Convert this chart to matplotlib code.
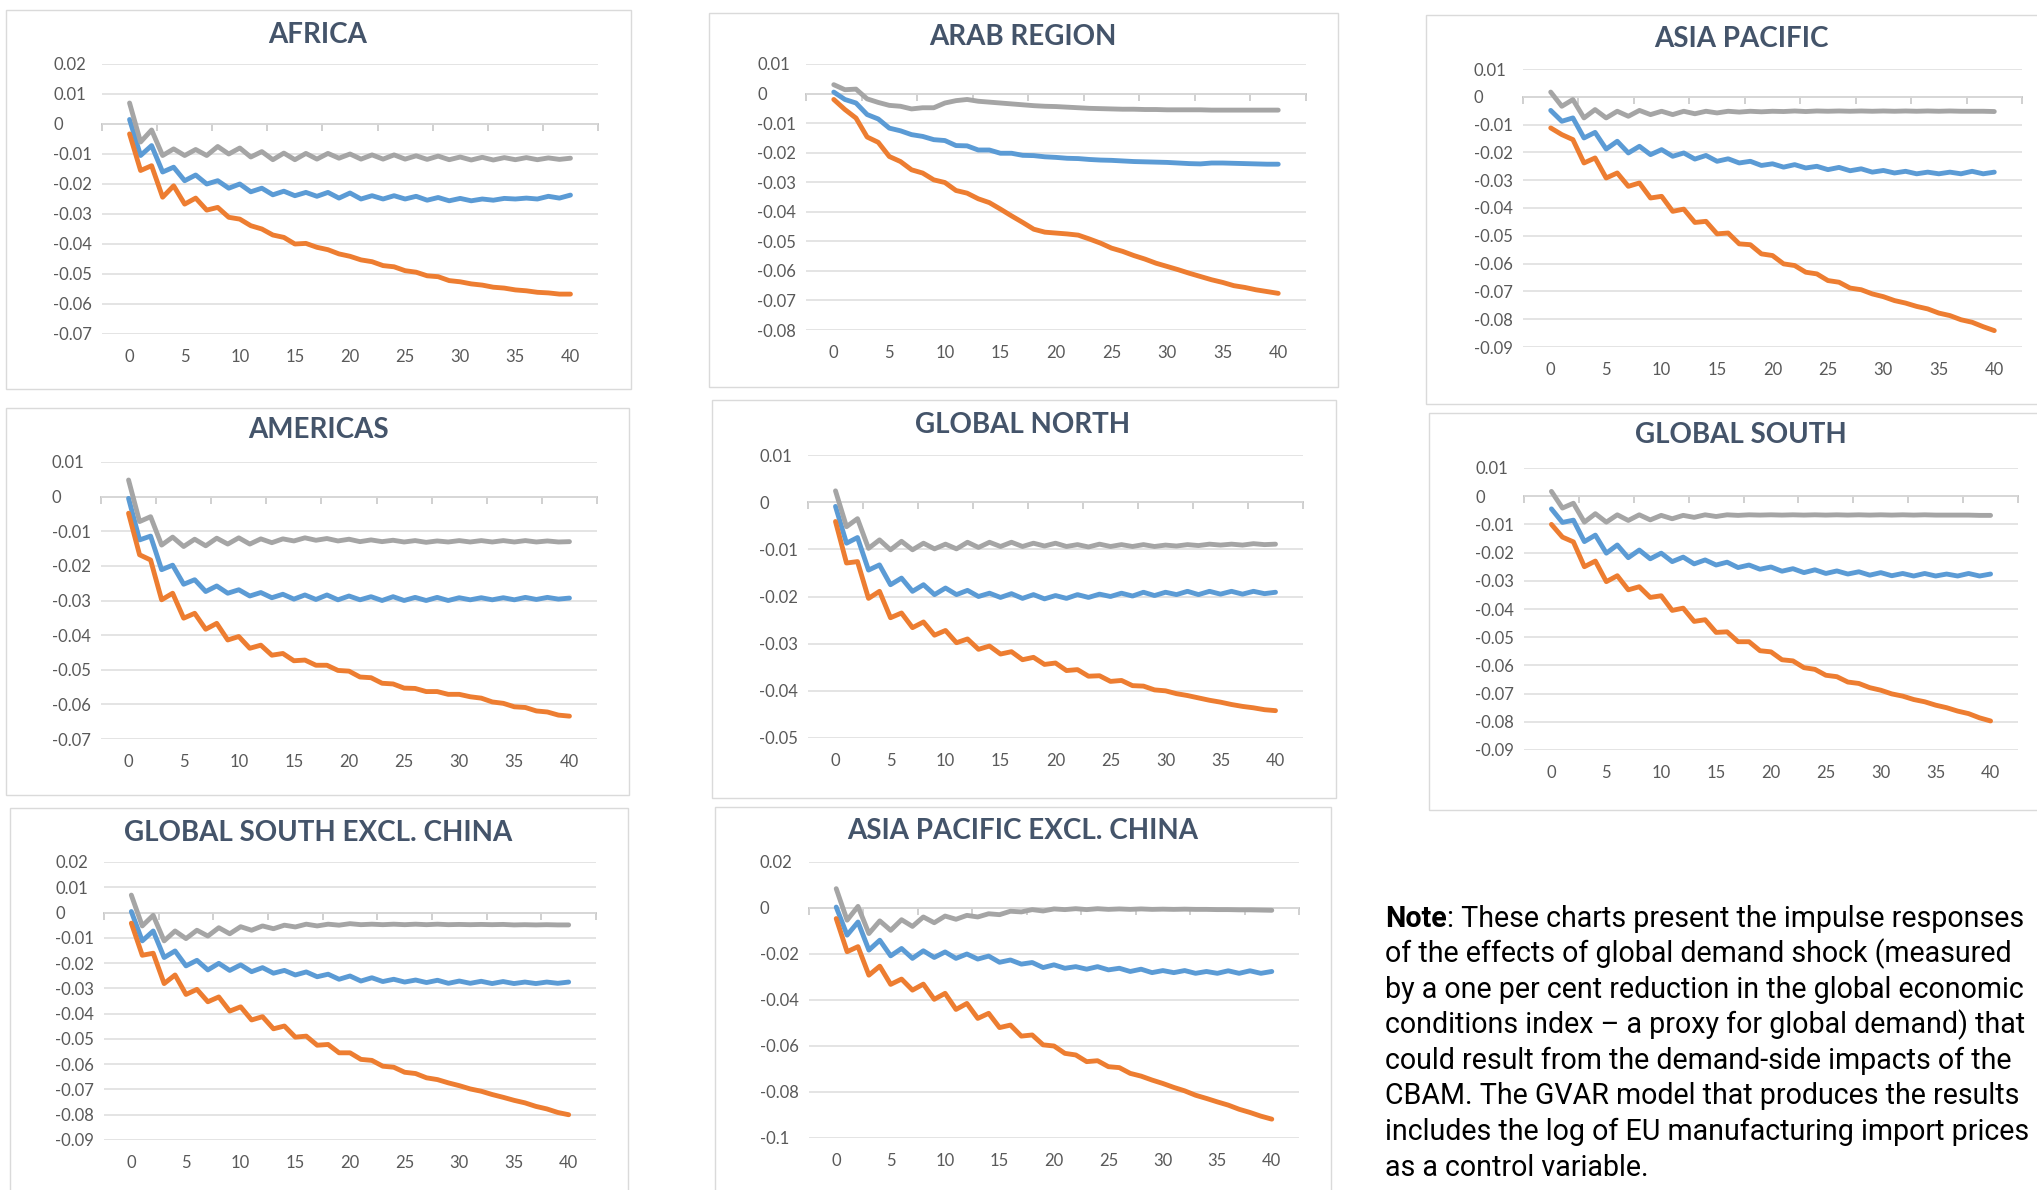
import matplotlib
matplotlib.use("Agg")
import matplotlib.pyplot as plt
from matplotlib.patches import Rectangle

W, H = 2037, 1190
horizon = list(range(41))

# ---------------------------------------------------------------- data
africa_blue = [0.0015, -0.0105, -0.0072, -0.0160, -0.0144, -0.0189, -0.0170, -0.0200, -0.0189, -0.0214,
               -0.0200, -0.0226, -0.0214, -0.0236, -0.0224, -0.0239, -0.0228, -0.0241, -0.0228, -0.0247,
               -0.0230, -0.0250, -0.0239, -0.0250, -0.0239, -0.0250, -0.0241, -0.0254, -0.0245, -0.0256,
               -0.0248, -0.0256, -0.0250, -0.0254, -0.0248, -0.0250, -0.0247, -0.0250, -0.0241, -0.0247,
               -0.0237]
africa_orange = [-0.0033, -0.0155, -0.0139, -0.0244, -0.0206, -0.0267, -0.0247, -0.0287, -0.0278, -0.0311,
                 -0.0317, -0.0339, -0.0350, -0.0370, -0.0378, -0.0400, -0.0398, -0.0411, -0.0419, -0.0433,
                 -0.0441, -0.0453, -0.0459, -0.0472, -0.0476, -0.0489, -0.0494, -0.0506, -0.0509, -0.0522,
                 -0.0526, -0.0533, -0.0537, -0.0544, -0.0547, -0.0553, -0.0556, -0.0561, -0.0563, -0.0567,
                 -0.0567]
africa_gray = [0.0070, -0.0060, -0.0020, -0.0105, -0.0083, -0.0105, -0.0085, -0.0105, -0.0075, -0.0100,
               -0.0080, -0.0110, -0.0092, -0.0119, -0.0097, -0.0119, -0.0098, -0.0117, -0.0098, -0.0114,
               -0.0100, -0.0117, -0.0103, -0.0117, -0.0103, -0.0117, -0.0106, -0.0118, -0.0107, -0.0119,
               -0.0110, -0.0120, -0.0111, -0.0120, -0.0112, -0.0119, -0.0112, -0.0119, -0.0113, -0.0118,
               -0.0114]
africa_yticks = [0.02, 0.01, 0, -0.01, -0.02, -0.03, -0.04, -0.05, -0.06, -0.07]

arab_blue = [0.0005, -0.0020, -0.0032, -0.0071, -0.0086, -0.0117, -0.0126, -0.0139, -0.0145, -0.0156,
             -0.0159, -0.0176, -0.0177, -0.0191, -0.0191, -0.0202, -0.0202, -0.0209, -0.0210, -0.0214,
             -0.0216, -0.0219, -0.0220, -0.0223, -0.0225, -0.0226, -0.0228, -0.0230, -0.0231, -0.0232,
             -0.0233, -0.0235, -0.0237, -0.0238, -0.0235, -0.0235, -0.0236, -0.0237, -0.0238, -0.0239,
             -0.0239]
arab_orange = [-0.0020, -0.0054, -0.0083, -0.0147, -0.0165, -0.0213, -0.0230, -0.0258, -0.0269, -0.0292,
               -0.0301, -0.0328, -0.0337, -0.0356, -0.0369, -0.0391, -0.0414, -0.0436, -0.0459, -0.0469,
               -0.0472, -0.0475, -0.0479, -0.0492, -0.0506, -0.0523, -0.0534, -0.0548, -0.0560, -0.0574,
               -0.0585, -0.0596, -0.0608, -0.0619, -0.0630, -0.0639, -0.0650, -0.0656, -0.0664, -0.0670,
               -0.0676]
arab_gray = [0.0030, 0.0013, 0.0015, -0.0018, -0.0030, -0.0040, -0.0043, -0.0052, -0.0048, -0.0048,
             -0.0032, -0.0024, -0.0020, -0.0026, -0.0029, -0.0032, -0.0035, -0.0038, -0.0041, -0.0043,
             -0.0044, -0.0046, -0.0048, -0.0050, -0.0051, -0.0052, -0.0053, -0.0053, -0.0054, -0.0054,
             -0.0055, -0.0055, -0.0055, -0.0055, -0.0056, -0.0056, -0.0056, -0.0056, -0.0056, -0.0056,
             -0.0056]
arab_yticks = [0.01, 0, -0.01, -0.02, -0.03, -0.04, -0.05, -0.06, -0.07, -0.08]

asiapac_blue = [-0.0049, -0.0088, -0.0076, -0.0148, -0.0128, -0.0188, -0.0160, -0.0202, -0.0178, -0.0208,
                -0.0190, -0.0214, -0.0202, -0.0224, -0.0211, -0.0232, -0.0223, -0.0238, -0.0232, -0.0247,
                -0.0241, -0.0253, -0.0244, -0.0256, -0.0250, -0.0262, -0.0254, -0.0266, -0.0259, -0.0271,
                -0.0265, -0.0274, -0.0268, -0.0277, -0.0271, -0.0277, -0.0271, -0.0277, -0.0268, -0.0277,
                -0.0271]
asiapac_orange = [-0.0112, -0.0136, -0.0154, -0.0238, -0.0220, -0.0292, -0.0274, -0.0322, -0.0310, -0.0364,
                  -0.0358, -0.0412, -0.0404, -0.0452, -0.0448, -0.0493, -0.0490, -0.0529, -0.0532, -0.0565,
                  -0.0571, -0.0601, -0.0607, -0.0631, -0.0637, -0.0661, -0.0667, -0.0688, -0.0694, -0.0709,
                  -0.0719, -0.0733, -0.0742, -0.0754, -0.0763, -0.0778, -0.0787, -0.0802, -0.0811, -0.0827,
                  -0.0841]
asiapac_gray = [0.0017, -0.0034, -0.0010, -0.0076, -0.0046, -0.0076, -0.0052, -0.0070, -0.0049, -0.0064,
                -0.0052, -0.0064, -0.0052, -0.0061, -0.0052, -0.0058, -0.0052, -0.0055, -0.0052, -0.0054,
                -0.0052, -0.0053, -0.0051, -0.0053, -0.0051, -0.0052, -0.0051, -0.0052, -0.0051, -0.0052,
                -0.0051, -0.0052, -0.0051, -0.0052, -0.0051, -0.0052, -0.0051, -0.0052, -0.0052, -0.0052,
                -0.0053]
asiapac_yticks = [0.01, 0, -0.01, -0.02, -0.03, -0.04, -0.05, -0.06, -0.07, -0.08, -0.09]

americas_blue = [-0.0005, -0.0125, -0.0114, -0.0211, -0.0198, -0.0253, -0.0240, -0.0274, -0.0258, -0.0279,
                 -0.0269, -0.0287, -0.0277, -0.0292, -0.0282, -0.0296, -0.0284, -0.0297, -0.0284, -0.0298,
                 -0.0287, -0.0298, -0.0289, -0.0300, -0.0289, -0.0300, -0.0291, -0.0300, -0.0291, -0.0300,
                 -0.0292, -0.0298, -0.0292, -0.0298, -0.0292, -0.0298, -0.0291, -0.0297, -0.0291, -0.0296,
                 -0.0293]
americas_orange = [-0.0048, -0.0168, -0.0183, -0.0298, -0.0279, -0.0351, -0.0337, -0.0383, -0.0366, -0.0414,
                   -0.0404, -0.0438, -0.0429, -0.0458, -0.0453, -0.0474, -0.0472, -0.0487, -0.0487, -0.0502,
                   -0.0504, -0.0521, -0.0523, -0.0539, -0.0541, -0.0553, -0.0554, -0.0563, -0.0563, -0.0571,
                   -0.0571, -0.0578, -0.0582, -0.0593, -0.0597, -0.0607, -0.0609, -0.0619, -0.0622, -0.0631,
                   -0.0634]
americas_gray = [0.0048, -0.0072, -0.0058, -0.0140, -0.0117, -0.0144, -0.0123, -0.0142, -0.0120, -0.0137,
                 -0.0119, -0.0137, -0.0122, -0.0133, -0.0122, -0.0128, -0.0119, -0.0126, -0.0121, -0.0128,
                 -0.0123, -0.0130, -0.0125, -0.0130, -0.0126, -0.0131, -0.0127, -0.0132, -0.0128, -0.0131,
                 -0.0127, -0.0131, -0.0127, -0.0131, -0.0127, -0.0131, -0.0127, -0.0131, -0.0128, -0.0131,
                 -0.0130]
americas_yticks = [0.01, 0, -0.01, -0.02, -0.03, -0.04, -0.05, -0.06, -0.07]

north_blue = [-0.0009, -0.0087, -0.0075, -0.0144, -0.0133, -0.0175, -0.0161, -0.0189, -0.0175, -0.0196,
              -0.0182, -0.0196, -0.0187, -0.0200, -0.0193, -0.0202, -0.0194, -0.0204, -0.0196, -0.0205,
              -0.0198, -0.0204, -0.0196, -0.0202, -0.0195, -0.0200, -0.0193, -0.0199, -0.0191, -0.0198,
              -0.0191, -0.0196, -0.0189, -0.0196, -0.0189, -0.0195, -0.0189, -0.0195, -0.0189, -0.0194,
              -0.0191]
north_orange = [-0.0041, -0.0129, -0.0126, -0.0204, -0.0189, -0.0245, -0.0235, -0.0266, -0.0254, -0.0282,
                -0.0272, -0.0298, -0.0290, -0.0312, -0.0305, -0.0322, -0.0317, -0.0334, -0.0329, -0.0344,
                -0.0341, -0.0357, -0.0355, -0.0369, -0.0368, -0.0380, -0.0378, -0.0389, -0.0390, -0.0398,
                -0.0400, -0.0406, -0.0410, -0.0415, -0.0420, -0.0424, -0.0429, -0.0433, -0.0436, -0.0440,
                -0.0442]
north_gray = [0.0024, -0.0052, -0.0035, -0.0098, -0.0080, -0.0101, -0.0083, -0.0101, -0.0087, -0.0099,
              -0.0089, -0.0099, -0.0085, -0.0096, -0.0085, -0.0094, -0.0085, -0.0094, -0.0087, -0.0093,
              -0.0087, -0.0094, -0.0090, -0.0095, -0.0089, -0.0094, -0.0090, -0.0094, -0.0090, -0.0094,
              -0.0091, -0.0093, -0.0090, -0.0092, -0.0089, -0.0091, -0.0089, -0.0091, -0.0088, -0.0090,
              -0.0089]
north_yticks = [0.01, 0, -0.01, -0.02, -0.03, -0.04, -0.05]

south_blue = [-0.0045, -0.0093, -0.0085, -0.0161, -0.0138, -0.0202, -0.0173, -0.0218, -0.0191, -0.0222,
              -0.0202, -0.0232, -0.0216, -0.0240, -0.0226, -0.0244, -0.0234, -0.0253, -0.0244, -0.0259,
              -0.0251, -0.0266, -0.0257, -0.0271, -0.0261, -0.0274, -0.0265, -0.0276, -0.0268, -0.0280,
              -0.0271, -0.0282, -0.0274, -0.0283, -0.0274, -0.0283, -0.0276, -0.0283, -0.0274, -0.0283,
              -0.0276]
south_orange = [-0.0100, -0.0145, -0.0162, -0.0250, -0.0230, -0.0303, -0.0282, -0.0332, -0.0321, -0.0359,
                -0.0353, -0.0405, -0.0397, -0.0444, -0.0438, -0.0483, -0.0481, -0.0516, -0.0516, -0.0548,
                -0.0552, -0.0580, -0.0584, -0.0608, -0.0614, -0.0635, -0.0640, -0.0659, -0.0664, -0.0679,
                -0.0688, -0.0701, -0.0709, -0.0721, -0.0729, -0.0741, -0.0750, -0.0762, -0.0771, -0.0786,
                -0.0797]
south_gray = [0.0017, -0.0042, -0.0025, -0.0092, -0.0062, -0.0092, -0.0066, -0.0086, -0.0066, -0.0084,
              -0.0068, -0.0080, -0.0068, -0.0075, -0.0066, -0.0072, -0.0066, -0.0068, -0.0066, -0.0067,
              -0.0066, -0.0067, -0.0066, -0.0067, -0.0066, -0.0067, -0.0066, -0.0067, -0.0066, -0.0067,
              -0.0066, -0.0067, -0.0066, -0.0067, -0.0066, -0.0067, -0.0067, -0.0067, -0.0067, -0.0068,
              -0.0068]
south_yticks = [0.01, 0, -0.01, -0.02, -0.03, -0.04, -0.05, -0.06, -0.07, -0.08, -0.09]

south_xchn_blue = [0.0004, -0.0112, -0.0073, -0.0178, -0.0152, -0.0211, -0.0189, -0.0227, -0.0201, -0.0229,
                   -0.0207, -0.0234, -0.0218, -0.0240, -0.0229, -0.0247, -0.0235, -0.0254, -0.0244, -0.0264,
                   -0.0251, -0.0271, -0.0258, -0.0273, -0.0264, -0.0275, -0.0267, -0.0277, -0.0268, -0.0280,
                   -0.0271, -0.0280, -0.0272, -0.0281, -0.0273, -0.0281, -0.0275, -0.0281, -0.0275, -0.0280,
                   -0.0275]
south_xchn_orange = [-0.0042, -0.0169, -0.0161, -0.0281, -0.0247, -0.0324, -0.0304, -0.0353, -0.0334, -0.0390,
                     -0.0373, -0.0425, -0.0412, -0.0460, -0.0449, -0.0493, -0.0489, -0.0525, -0.0522, -0.0555,
                     -0.0555, -0.0581, -0.0585, -0.0608, -0.0612, -0.0632, -0.0637, -0.0654, -0.0661, -0.0674,
                     -0.0685, -0.0698, -0.0707, -0.0720, -0.0731, -0.0743, -0.0753, -0.0767, -0.0777, -0.0791,
                     -0.0800]
south_xchn_gray = [0.0069, -0.0053, -0.0011, -0.0112, -0.0073, -0.0103, -0.0070, -0.0093, -0.0060, -0.0084,
                   -0.0056, -0.0070, -0.0053, -0.0064, -0.0050, -0.0057, -0.0046, -0.0053, -0.0046, -0.0050,
                   -0.0044, -0.0048, -0.0046, -0.0048, -0.0046, -0.0048, -0.0046, -0.0048, -0.0046, -0.0048,
                   -0.0047, -0.0048, -0.0047, -0.0048, -0.0047, -0.0049, -0.0048, -0.0049, -0.0048, -0.0049,
                   -0.0049]
south_xchn_yticks = [0.02, 0.01, 0, -0.01, -0.02, -0.03, -0.04, -0.05, -0.06, -0.07, -0.08, -0.09]

asiapac_xchn_blue = [0.0004, -0.0118, -0.0061, -0.0183, -0.0140, -0.0208, -0.0176, -0.0219, -0.0186, -0.0215,
                     -0.0191, -0.0219, -0.0200, -0.0222, -0.0209, -0.0236, -0.0226, -0.0244, -0.0237, -0.0259,
                     -0.0247, -0.0262, -0.0255, -0.0266, -0.0255, -0.0269, -0.0262, -0.0276, -0.0266, -0.0281,
                     -0.0272, -0.0281, -0.0272, -0.0284, -0.0276, -0.0284, -0.0273, -0.0284, -0.0273, -0.0284,
                     -0.0276]
asiapac_xchn_orange = [-0.0046, -0.0190, -0.0168, -0.0292, -0.0253, -0.0332, -0.0309, -0.0357, -0.0331, -0.0397,
                       -0.0371, -0.0441, -0.0415, -0.0480, -0.0458, -0.0520, -0.0509, -0.0557, -0.0552, -0.0595,
                       -0.0600, -0.0632, -0.0639, -0.0668, -0.0664, -0.0690, -0.0694, -0.0719, -0.0731, -0.0748,
                       -0.0763, -0.0780, -0.0795, -0.0814, -0.0828, -0.0843, -0.0857, -0.0875, -0.0889, -0.0905,
                       -0.0918]
asiapac_xchn_gray = [0.0084, -0.0053, 0.0007, -0.0111, -0.0056, -0.0097, -0.0051, -0.0080, -0.0039, -0.0064,
                     -0.0035, -0.0049, -0.0032, -0.0039, -0.0025, -0.0029, -0.0014, -0.0017, -0.0007, -0.0013,
                     -0.0004, -0.0007, -0.0003, -0.0007, -0.0003, -0.0006, -0.0004, -0.0006, -0.0004, -0.0006,
                     -0.0005, -0.0006, -0.0005, -0.0006, -0.0006, -0.0007, -0.0007, -0.0008, -0.0008, -0.0009,
                     -0.0010]
asiapac_xchn_yticks = [0.02, 0, -0.02, -0.04, -0.06, -0.08, -0.1]

titles = ["AFRICA", "ARAB REGION", "ASIA PACIFIC", "AMERICAS", "GLOBAL NORTH",
          "GLOBAL SOUTH", "GLOBAL SOUTH EXCL. CHINA", "ASIA PACIFIC EXCL. CHINA"]
x_ticks = [0, 5, 10, 15, 20, 25, 30, 35, 40]

note_lead = "Note"
note_lines = [
    ": These charts present the impulse responses",
    "of the effects of global demand shock (measured",
    "by a one per cent reduction in the global economic",
    "conditions index \u2013 a proxy for global demand) that",
    "could result from the demand-side impacts of the",
    "CBAM. The GVAR model that produces the results",
    "includes the log of EU manufacturing import prices",
    "as a control variable.",
]

panels = [
    (africa_blue, africa_orange, africa_gray, africa_yticks),
    (arab_blue, arab_orange, arab_gray, arab_yticks),
    (asiapac_blue, asiapac_orange, asiapac_gray, asiapac_yticks),
    (americas_blue, americas_orange, americas_gray, americas_yticks),
    (north_blue, north_orange, north_gray, north_yticks),
    (south_blue, south_orange, south_gray, south_yticks),
    (south_xchn_blue, south_xchn_orange, south_xchn_gray, south_xchn_yticks),
    (asiapac_xchn_blue, asiapac_xchn_orange, asiapac_xchn_gray, asiapac_xchn_yticks),
]

# ---------------------------------------------------------------- layout (pixels)
frames = [(6, 10, 631, 389), (709, 13, 1338, 387), (1426, 15, 2060, 404),
          (6, 408, 629, 795), (712, 400, 1336, 798), (1429, 413, 2060, 810),
          (10, 808, 628, 1200), (715, 807, 1331, 1200)]
plot_boxes = [(102, 64, 598, 334), (806, 64, 1306, 330), (1523, 69, 2022, 347),
              (101, 462, 597, 739), (808, 455, 1303, 738), (1524, 468, 2018, 750),
              (104, 862, 596, 1140), (809, 862, 1299, 1138)]
title_centres = [(318, 33), (1023, 35), (1741, 37), (318, 428), (1023, 423),
                 (1741, 433), (318, 831), (1023, 829)]

BLUE, ORANGE, GRAY = "#5B9BD5", "#ED7D31", "#A5A5A5"
GRID = "#DCDCDC"
AXIS = "#C4C4C4"
LABEL = "#595959"
TITLE = "#44546A"

plt.rcParams["font.family"] = ["Lato", "DejaVu Sans"]

fig = plt.figure(figsize=(W / 100, H / 100), dpi=100)
fig.patch.set_facecolor("white")


def general_fmt(v):
    s = f"{round(v, 2):g}"
    return "0" if s in ("0", "-0") else s


PX_TO_PT = 72 / 100

for (blue, orange, gray, yticks), frame, box, tc, title in zip(
        panels, frames, plot_boxes, title_centres, titles):
    fx0, fy0, fx1, fy1 = frame
    fig.add_artist(Rectangle((fx0 / W, 1 - fy1 / H), (fx1 - fx0) / W, (fy1 - fy0) / H,
                             transform=fig.transFigure, facecolor="white",
                             edgecolor="#DADADA", linewidth=1.0, zorder=-5))

    x0, y0, x1, y1 = box
    ax = fig.add_axes([x0 / W, 1 - y1 / H, (x1 - x0) / W, (y1 - y0) / H])
    ax.patch.set_alpha(0)
    ymin, ymax = min(yticks), max(yticks)
    ax.set_xlim(-2.5, 42.5)
    ax.set_ylim(ymin, ymax)
    for s in ax.spines.values():
        s.set_visible(False)

    ax.set_yticks(yticks)
    ax.set_yticklabels([general_fmt(v) for v in yticks], ha="left")
    ax.tick_params(axis="y", length=0, pad=49 * PX_TO_PT, labelsize=12, labelcolor=LABEL)
    ax.set_xticks(x_ticks)
    ax.set_xticklabels([str(v) for v in x_ticks])
    ax.tick_params(axis="x", length=0, pad=15 * PX_TO_PT, labelsize=12, labelcolor=LABEL)
    ax.yaxis.grid(True, color=GRID, linewidth=1.1)
    ax.set_axisbelow(True)

    # horizontal category axis crossing at zero, with tick marks between label groups
    zero_axis = ax.secondary_xaxis((0 - ymin) / (ymax - ymin))
    zero_axis.set_alignment("bottom")
    zero_axis.set_xticks([])
    zero_axis.set_xticks([-2.5 + 5 * k for k in range(10)], minor=True)
    zero_axis.tick_params(which="minor", length=5, width=1.1, color=AXIS, direction="out")
    zero_axis.tick_params(which="major", length=0, labelbottom=False)
    zero_axis.spines["bottom"].set_color(AXIS)
    zero_axis.spines["bottom"].set_linewidth(1.3)

    for series, colour in ((blue, BLUE), (orange, ORANGE), (gray, GRAY)):
        ax.plot(horizon, series, color=colour, linewidth=3.5,
                solid_joinstyle="round", solid_capstyle="round", zorder=3)

    cx, cy = tc
    title_size = 20
    cap = 0.72 * title_size / PX_TO_PT
    fig.text(cx / W, 1 - (cy + cap / 2) / H, title, ha="center", va="baseline",
             fontsize=title_size, fontweight="bold", color=TITLE)

# ---------------------------------------------------------------- note
note_x = 1385
note_size = 20.6
first_baseline = 927
line_step = 35.5
renderer = fig.canvas.get_renderer()
lead = fig.text(note_x / W, 1 - first_baseline / H, note_lead, ha="left", va="baseline",
                fontsize=note_size, fontweight="bold", family=["Roboto", "DejaVu Sans"],
                color="black")
lead_end = lead.get_window_extent(renderer).x1
for i, line in enumerate(note_lines):
    x = lead_end if i == 0 else note_x
    fig.text(x / W, 1 - (first_baseline + i * line_step) / H, line, ha="left", va="baseline",
             fontsize=note_size, family=["Roboto", "DejaVu Sans"], color="black")

fig.savefig("out.png", dpi=100)
